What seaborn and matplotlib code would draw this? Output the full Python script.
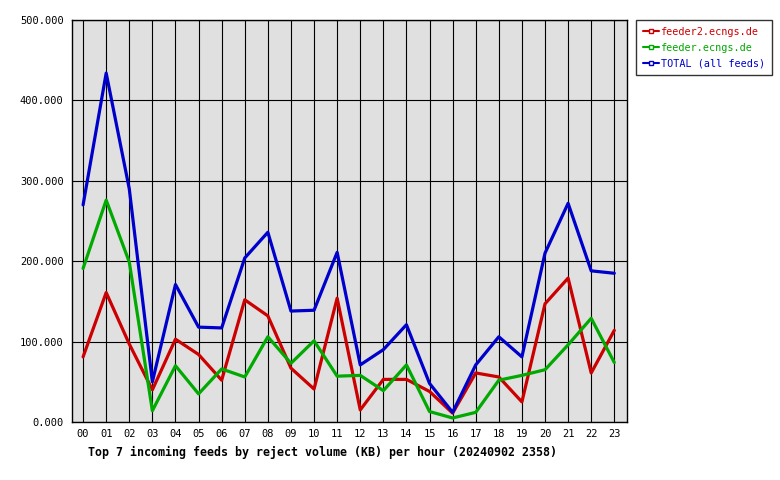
import matplotlib
matplotlib.use("Agg")
import matplotlib.pyplot as plt
from matplotlib.lines import Line2D
import seaborn as sns
import pandas as pd

hours = ["00", "01", "02", "03", "04", "05", "06", "07", "08", "09", "10", "11",
         "12", "13", "14", "15", "16", "17", "18", "19", "20", "21", "22", "23"]
feeder2 = [81, 161, 97, 40, 103, 84, 52, 152, 132, 67, 41, 154,
           15, 53, 53, 38, 11, 61, 56, 25, 147, 179, 61, 114]
feeder = [191, 276, 199, 14, 70, 35, 66, 56, 106, 73, 101, 57,
          58, 39, 71, 13, 5, 12, 52, 58, 65, 96, 129, 74]
total = [270, 434, 290, 50, 171, 118, 117, 204, 236, 138, 139, 211,
         71, 90, 121, 48, 12, 71, 106, 81, 210, 272, 188, 185]
series_names = ["feeder2.ecngs.de", "feeder.ecngs.de", "TOTAL (all feeds)"]
colors = ["#cc0000", "#00aa00", "#0000cc"]
yticks = [0, 100, 200, 300, 400, 500]
title = "Top 7 incoming feeds by reject volume (KB) per hour (20240902 2358)"

rows = []
for name, vals in zip(series_names, [feeder2, feeder, total]):
    for i, v in enumerate(vals):
        rows.append({"hour": i, "value": v, "series": name})
df = pd.DataFrame(rows)

sns.set_theme(style="white")
plt.rcParams["font.family"] = ["DejaVu Sans Mono"]

fig = plt.figure(figsize=(7.8, 4.8), dpi=100)
ax = fig.add_axes([72 / 780, 58 / 480, 555 / 780, 402 / 480])
ax.set_facecolor("#e0e0e0")

sns.lineplot(data=df, x="hour", y="value", hue="series", hue_order=series_names,
             palette=colors, linewidth=2.3, ax=ax, legend=False, zorder=3)

ax.set_xlim(-0.48, 23.55)
ax.set_ylim(0, 500)
ax.set_xticks(range(len(hours)))
ax.set_xticklabels(hours)
ax.set_yticks(yticks)
ax.set_yticklabels([f"{v:.3f}" for v in yticks])
ax.grid(True, color="black", linewidth=0.8, zorder=1)
ax.set_axisbelow(True)
for s in ax.spines.values():
    s.set_color("black")
    s.set_linewidth(1.0)
ax.tick_params(axis="y", length=4, width=0.8, color="black", labelsize=7.5,
               pad=2, labelcolor="black")
ax.tick_params(axis="x", length=0, labelsize=7.5, pad=5, labelcolor="black")
ax.set_xlabel("")
ax.set_ylabel("")

fig.text(88 / 780, 1 - 452 / 480, title, fontsize=8.35, fontweight="bold",
         ha="left", va="center", color="black")

handles = [Line2D([0], [0], color=c, linewidth=1.5, marker="s", markersize=3,
                  markerfacecolor="white", markeredgecolor=c) for c in colors]
leg = fig.legend(handles, series_names, loc="upper left",
                 bbox_to_anchor=(636 / 780, 1 - 20 / 480), borderaxespad=0,
                 frameon=True, fancybox=False, edgecolor="black", fontsize=7.3,
                 handlelength=1.6, handletextpad=0.25, labelspacing=0.6,
                 borderpad=0.65, numpoints=1)
leg.get_frame().set_linewidth(1.0)
for t, c in zip(leg.get_texts(), colors):
    t.set_color(c)

fig.savefig("out.png", dpi=100)
